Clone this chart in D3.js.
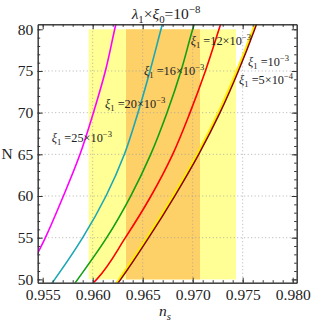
<!DOCTYPE html>
<html>
<head>
<meta charset="utf-8">
<script src="https://cdn.jsdelivr.net/npm/d3@7"></script>
<style>
  body { margin: 0; background: #fff; }
  svg text { font-family: "Liberation Serif", "DejaVu Serif", serif; fill: #222; }
</style>
</head>
<body>
<div id="chart"></div>
<script>
// N grid shared by all curves
const nValues = [49.5, 50, 55, 60, 65, 70, 75, 80, 80.9];

// n_s at the N values above
const nsXi25 = [0.95297, 0.95317, 0.95527, 0.95707, 0.95873, 0.96007, 0.96127, 0.96220, 0.96237];
const nsXi20 = [0.95590, 0.95620, 0.95900, 0.96133, 0.96317, 0.96453, 0.96573, 0.96683, 0.96703];
const nsXi16 = [0.95820, 0.95850, 0.96140, 0.96380, 0.96580, 0.96743, 0.96883, 0.97000, 0.97023];
const nsXi12 = [0.96000, 0.96040, 0.96327, 0.96583, 0.96800, 0.96973, 0.97127, 0.97263, 0.97287];
const nsXi05 = [0.96233, 0.96263, 0.96543, 0.96803, 0.97043, 0.97256, 0.97440, 0.97603, 0.97630];
const nsXi1 = [0.96250, 0.96280, 0.96560, 0.96820, 0.97060, 0.97273, 0.97457, 0.97620, 0.97647];

// observational bands [ns min, ns max]
const band2 = [0.9596, 0.97433];
const band1 = [0.96333, 0.97073];
const bandN = [50, 80];

const xTicks = [0.955, 0.960, 0.965, 0.970, 0.975, 0.980];
const yTicks = [50, 55, 60, 65, 70, 75, 80];

const width = 312, height = 324;
const pLeft = 37.7, pRight = 296.7, pTop = 24.3, pBottom = 282.7;

const x = d3.scaleLinear().domain([0.9545, 0.9804]).range([pLeft, pRight]);
const y = d3.scaleLinear().domain([49.6, 80.6]).range([pBottom, pTop]);

const svg = d3.select("#chart").append("svg")
    .attr("width", width)
    .attr("height", height);

svg.append("defs").append("clipPath").attr("id", "plot")
    .append("rect")
    .attr("x", pLeft).attr("y", pTop)
    .attr("width", pRight - pLeft).attr("height", pBottom - pTop);

// bands
svg.append("rect")
    .attr("x", x(band2[0])).attr("y", y(bandN[1]))
    .attr("width", x(band2[1]) - x(band2[0]))
    .attr("height", y(bandN[0]) - y(bandN[1]))
    .attr("fill", "#ffff96");
svg.append("rect")
    .attr("x", x(band1[0])).attr("y", y(bandN[1]))
    .attr("width", x(band1[1]) - x(band1[0]))
    .attr("height", y(bandN[0]) - y(bandN[1]))
    .attr("fill", "#fdd068");

// grid lines
const grid = svg.append("g").attr("stroke", "#a0a0a0").attr("stroke-width", 0.8)
    .attr("stroke-dasharray", "1,2.5");
grid.selectAll(".gx").data(xTicks.slice(1, -1)).enter().append("line")
    .attr("x1", d => x(d)).attr("x2", d => x(d))
    .attr("y1", pTop).attr("y2", pBottom);
grid.selectAll(".gy").data(yTicks.slice(1, -1)).enter().append("line")
    .attr("x1", pLeft).attr("x2", pRight)
    .attr("y1", d => y(d)).attr("y2", d => y(d));

// curves
const line = d3.line()
    .x(d => x(d[0]))
    .y(d => y(d[1]))
    .curve(d3.curveMonotoneY);

const curves = [
    { ns: nsXi25, color: "#ff00ff", w: 1.6 },
    { ns: nsXi20, color: "#1ba8b4", w: 1.6 },
    { ns: nsXi16, color: "#12a012", w: 1.6 },
    { ns: nsXi12, color: "#ff0000", w: 1.6 },
    { ns: nsXi05, color: "#ffee00", w: 2.2 },
    { ns: nsXi1, color: "#8b0000", w: 1.5 }
];

const curveG = svg.append("g").attr("clip-path", "url(#plot)");
curves.forEach(c => {
    curveG.append("path")
        .datum(c.ns.map((v, i) => [v, nValues[i]]).reverse())
        .attr("fill", "none")
        .attr("stroke", c.color)
        .attr("stroke-width", c.w)
        .attr("d", line);
});

// rich text helper: parts = [text, {sub}|{sup}]
function richText(g, px, py, parts, size, anchor) {
    const t = g.append("text")
        .attr("x", px).attr("y", py)
        .attr("font-size", size)
        .attr("text-anchor", anchor || "start");
    let shift = 0;
    parts.forEach(p => {
        const s = t.append("tspan").text(p.t);
        let want = 0;
        if (p.sub) want = size * 0.25;
        if (p.sup) want = -size * 0.4;
        if (p.sub || p.sup) s.attr("font-size", size * 0.7);
        if (p.it) s.attr("font-style", "italic");
        s.attr("dy", want - shift);
        shift = want;
    });
    return t;
}

const labels = svg.append("g");
const xiLabel = (px, py, mid) => richText(labels, px, py, [
    { t: "ξ", it: true }, { t: "1", sub: true }, { t: " =" + mid[0] }, { t: mid[1], sup: true }
], 12.3);
xiLabel(51.7, 142, ["25×10", "−3"]);
xiLabel(105, 107.5, ["20×10", "−3"]);
xiLabel(144, 75, ["16×10", "−3"]);
xiLabel(190.7, 45, ["12×10", "−3"]);
xiLabel(248, 66, ["10", "−3"]);
xiLabel(239, 84, ["5×10", "−4"]);

// title
richText(svg, 166, 19, [
    { t: "λ", it: true }, { t: "1", sub: true }, { t: "×" }, { t: "ξ", it: true }, { t: "0", sub: true },
    { t: "=10" }, { t: "−8", sup: true }
], 15.5, "middle");

// axis titles
svg.append("text").attr("x", 7).attr("y", 159).attr("font-size", 15.5)
    .attr("text-anchor", "middle").text("N");
richText(svg, 165, 316, [{ t: "n", it: true }, { t: "s", sub: true, it: true }], 15.5, "middle");

// frame axes
const fmt = d3.format(".3f");
const xMinor = d3.range(0.955, 0.9805, 0.001);
const yMinor = d3.range(50, 81, 1);

function styleAxis(g) {
    g.select(".domain").attr("stroke", "#333");
    g.selectAll(".tick line").attr("stroke", "#333");
    g.selectAll("text").attr("font-size", 15.5).attr("fill", "#222")
        .attr("font-family", "Liberation Serif, serif");
}

svg.append("g").attr("transform", `translate(0,${pBottom})`)
    .call(d3.axisBottom(x).tickValues(xTicks).tickFormat(fmt).tickSizeInner(-5).tickSizeOuter(0).tickPadding(6.5))
    .call(styleAxis);
svg.append("g").attr("transform", `translate(0,${pBottom})`)
    .call(d3.axisBottom(x).tickValues(xMinor).tickFormat("").tickSizeInner(-2.5).tickSizeOuter(0))
    .call(styleAxis);
svg.append("g").attr("transform", `translate(0,${pTop})`)
    .call(d3.axisTop(x).tickValues(xTicks).tickFormat("").tickSizeInner(-5).tickSizeOuter(0))
    .call(styleAxis);
svg.append("g").attr("transform", `translate(0,${pTop})`)
    .call(d3.axisTop(x).tickValues(xMinor).tickFormat("").tickSizeInner(-2.5).tickSizeOuter(0))
    .call(styleAxis);

svg.append("g").attr("transform", `translate(${pLeft},0)`)
    .call(d3.axisLeft(y).tickValues(yTicks).tickSizeInner(-5).tickSizeOuter(0).tickPadding(4.5))
    .call(styleAxis);
svg.append("g").attr("transform", `translate(${pLeft},0)`)
    .call(d3.axisLeft(y).tickValues(yMinor).tickFormat("").tickSizeInner(-2.5).tickSizeOuter(0))
    .call(styleAxis);
svg.append("g").attr("transform", `translate(${pRight},0)`)
    .call(d3.axisRight(y).tickValues(yTicks).tickFormat("").tickSizeInner(-5).tickSizeOuter(0))
    .call(styleAxis);
svg.append("g").attr("transform", `translate(${pRight},0)`)
    .call(d3.axisRight(y).tickValues(yMinor).tickFormat("").tickSizeInner(-2.5).tickSizeOuter(0))
    .call(styleAxis);
</script>
</body>
</html>
